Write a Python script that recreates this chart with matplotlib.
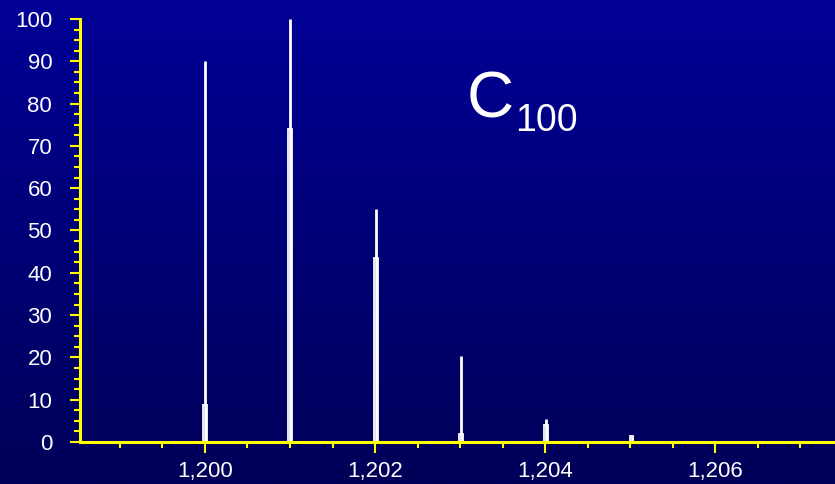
import numpy as np
import matplotlib
matplotlib.use('Agg')
import matplotlib.pyplot as plt
from matplotlib.ticker import MultipleLocator, FuncFormatter

# isotope peaks of C100
masses = [1200.0, 1201.0034, 1202.0067, 1203.0101, 1204.0134, 1205.0168]
line_heights = [90.1, 100.0, 55.0, 20.3, 5.4, 1.4]
profile_heights = [8.7, 74.0, 43.4, 1.9, 4.0, 1.4]

x_ticks = [1200, 1202, 1204, 1206]

plt.rcParams['font.family'] = ['Liberation Sans', 'DejaVu Sans']

fig = plt.figure(figsize=(8.35, 4.84), dpi=100)

# gradient background
bg = fig.add_axes([0, 0, 1, 1], zorder=0)
grad = np.linspace(0, 1, 256).reshape(-1, 1)
top = np.array([0, 0, 150]) / 255
bottom = np.array([0, 0, 88]) / 255
img = top + (bottom - top) * grad[:, :, None]
bg.imshow(img, aspect='auto', extent=[0, 1, 0, 1])
bg.axis('off')

ax = fig.add_axes([80 / 835, 42 / 484, 755 / 835, 423 / 484], zorder=1)
ax.patch.set_visible(False)

yellow = '#FFFF00'
ax.bar(masses, profile_heights, width=0.045, facecolor='none',
       edgecolor='white', linewidth=1.3)
ax.vlines(masses, 0, line_heights, color='white', linewidth=2.0)

ax.set_xlim(1198.53, 1207.41)
ax.set_ylim(0, 100)

for s in ['top', 'right']:
    ax.spines[s].set_visible(False)
for s in ['left', 'bottom']:
    ax.spines[s].set_color(yellow)
    ax.spines[s].set_linewidth(2.2)

ax.set_xticks(x_ticks)
ax.xaxis.set_minor_locator(MultipleLocator(0.5))
ax.xaxis.set_major_formatter(FuncFormatter(lambda v, p: f'{v:,.0f}'))
ax.yaxis.set_major_locator(MultipleLocator(10))
ax.yaxis.set_minor_locator(MultipleLocator(2.5))

ax.tick_params(axis='both', which='major', color=yellow, width=1.5,
               labelcolor='white', labelsize=16, direction='out')
ax.tick_params(axis='both', which='minor', color=yellow, width=1.5,
               direction='out', length=4)
ax.tick_params(axis='x', which='major', length=8, pad=6)
ax.tick_params(axis='y', which='major', length=7, pad=13)

fig.text(467 / 835, 1 - 117 / 484, 'C', color='white', fontsize=47)
fig.text(515 / 835, 1 - 131 / 484, '100', color='white', fontsize=27)

plt.savefig('out.png', dpi=100)
